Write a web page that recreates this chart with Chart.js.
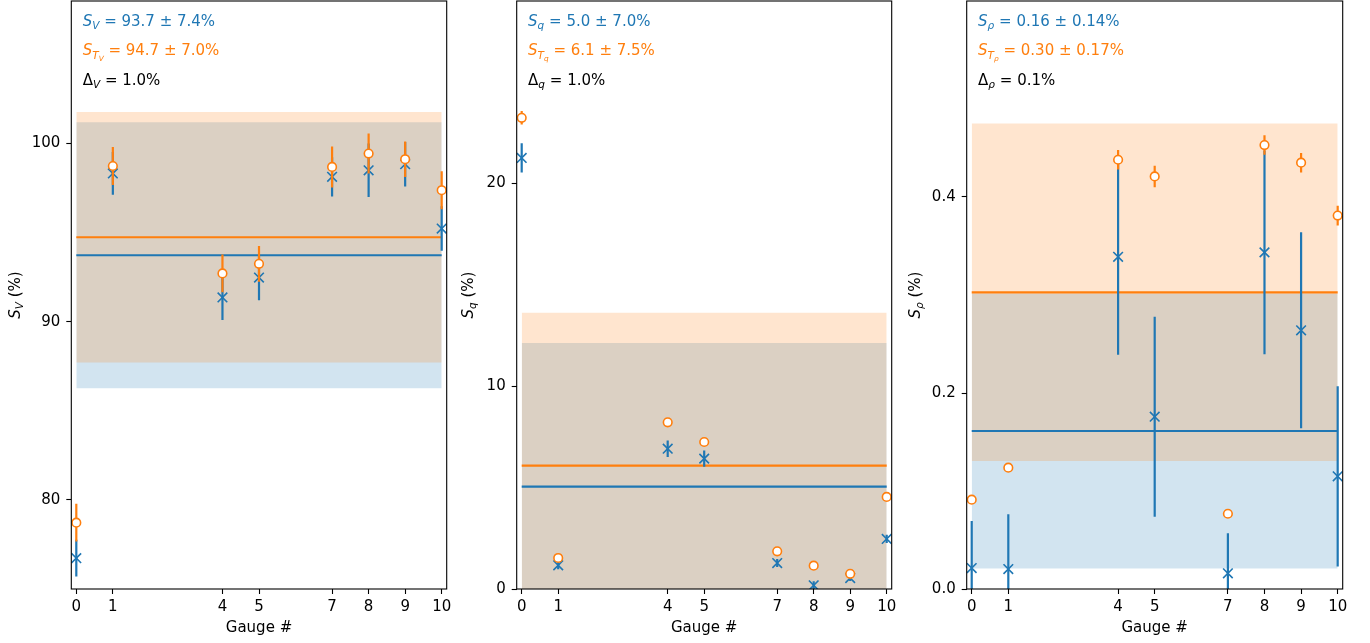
<!DOCTYPE html>
<html><head><meta charset="utf-8">
<script src="https://cdn.jsdelivr.net/npm/chart.js@4.4.0/dist/chart.umd.min.js"></script>
<style>
html,body{margin:0;padding:0;background:#fff;width:1370px;height:643px;overflow:hidden;}
canvas{position:absolute;top:0;}
</style></head><body>
<canvas id="c1" width="452" height="643" style="left:0px"></canvas>
<canvas id="c2" width="445" height="643" style="left:452px"></canvas>
<canvas id="c3" width="473" height="643" style="left:897px"></canvas>
<script>
// ---------------- data ----------------
const gauges = [0, 1, 4, 5, 7, 8, 9, 10];
const xTickValues = [0, 1, 4, 5, 7, 8, 9, 10];
const xTitle = 'Gauge #';

// Panel V
const sV      = [76.73, 98.32, 91.36, 92.48, 98.13, 98.50, 98.84, 95.23];
const sVErr   = [1.03, 1.20, 1.27, 1.27, 1.10, 1.50, 1.25, 1.25];
const sTV     = [78.72, 98.74, 92.71, 93.25, 98.69, 99.44, 99.12, 97.38];
const sTVErr  = [1.06, 1.07, 1.06, 1.00, 1.15, 1.12, 1.00, 1.07];
const statV   = [93.73, 7.47];   // mean, std of S_V
const statTV  = [94.74, 7.03];   // mean, std of S_TV
const yTicksV = [80, 90, 100];
const yTickLabelsV = ['80', '90', '100'];
const yRangeV = [75.0, 108.0];

// Panel q
const sQ      = [21.26, 1.17, 6.92, 6.43, 1.28, 0.18, 0.54, 2.47];
const sQErr   = [0.72, 0.20, 0.41, 0.40, 0.20, 0.20, 0.15, 0.20];
const sTQ     = [23.24, 1.53, 8.22, 7.25, 1.86, 1.15, 0.75, 4.54];
const sTQErr  = [0.33, 0.10, 0.10, 0.10, 0.10, 0.10, 0.10, 0.10];
const statQ   = [5.05, 7.08];
const statTQ  = [6.08, 7.54];
const yTicksQ = [0, 10, 20];
const yTickLabelsQ = ['0', '10', '20'];
const yRangeQ = [0, 29.0];

// Panel rho
const sR      = [0.0214, 0.0204, 0.339, 0.1758, 0.016, 0.3435, 0.264, 0.115];
const sRErr   = [0.048, 0.056, 0.100, 0.102, 0.041, 0.104, 0.100, 0.092];
const sTR     = [0.0911, 0.1238, 0.438, 0.421, 0.0768, 0.453, 0.435, 0.381];
const sTRErr  = [0.004, 0.004, 0.010, 0.011, 0.004, 0.010, 0.010, 0.010];
const statR   = [0.1612, 0.1403];
const statTR  = [0.3027, 0.1722];
const yTicksR = [0.0, 0.2, 0.4];
const yTickLabelsR = ['0.0', '0.2', '0.4'];
const yRangeR = [0, 0.6];

// annotation text (mathtext-like parts: [text, italic, level])
const textV = [
  [['S',1,0],['V',1,1],[' = 93.7 \u00b1 7.4%',0,0]],
  [['S',1,0],['T',1,1],['V',1,2],[' = 94.7 \u00b1 7.0%',0,0]],
  [['\u0394',0,0],['V',1,1],[' = 1.0%',0,0]]
];
const textQ = [
  [['S',1,0],['q',1,1],[' = 5.0 \u00b1 7.0%',0,0]],
  [['S',1,0],['T',1,1],['q',1,2],[' = 6.1 \u00b1 7.5%',0,0]],
  [['\u0394',0,0],['q',1,1],[' = 1.0%',0,0]]
];
const textR = [
  [['S',1,0],['\u03c1',1,1],[' = 0.16 \u00b1 0.14%',0,0]],
  [['S',1,0],['T',1,1],['\u03c1',1,2],[' = 0.30 \u00b1 0.17%',0,0]],
  [['\u0394',0,0],['\u03c1',1,1],[' = 0.1%',0,0]]
];
const yLabelV = [['S',1,0],['V',1,1],[' (%)',0,0]];
const yLabelQ = [['S',1,0],['q',1,1],[' (%)',0,0]];
const yLabelR = [['S',1,0],['\u03c1',1,1],[' (%)',0,0]];

// ---------------- styling ----------------
const BLUE = '#1f77b4', ORANGE = '#ff7f0e';
const BLUE_A = 'rgba(31,119,180,0.2)', ORANGE_A = 'rgba(255,127,14,0.2)';
const FONT = 'DejaVu Sans';
const FS = 15;
const textColors = [BLUE, ORANGE, '#000'];

function setFont(ctx, it, s) {
  ctx.font = (it ? 'italic ' : '') + s + 'px "' + FONT + '"';
}
function mathWidth(ctx, parts, size) {
  let w = 0;
  ctx.wordSpacing = '-1px';
  for (const [t, it, lv] of parts) {
    setFont(ctx, it, size * Math.pow(0.7, lv));
    w += ctx.measureText(t).width;
  }
  return w;
}
function drawMath(ctx, x, y, parts, size, color) {
  let cx = x;
  ctx.fillStyle = color;
  ctx.textBaseline = 'alphabetic';
  ctx.textAlign = 'left';
  ctx.wordSpacing = '-1px';
  for (const [t, it, lv] of parts) {
    let dy = 0;
    if (lv >= 1) dy += size * 0.22;
    if (lv >= 2) dy += size * 0.7 * 0.22;
    setFont(ctx, it, size * Math.pow(0.7, lv));
    ctx.fillText(t, cx, y + dy);
    cx += ctx.measureText(t).width;
  }
}

function errDatasets(vals, errs, color, order) {
  return gauges.map((g, i) => ({
    type: 'line',
    data: [{x: g, y: vals[i] - errs[i]}, {x: g, y: vals[i] + errs[i]}],
    borderColor: color, borderWidth: 2.2, pointRadius: 0, fill: false,
    order: order, clip: 0
  }));
}
function hLine(val) {
  const x0 = Math.min(...gauges), x1 = Math.max(...gauges);
  return [{x: x0, y: val}, {x: x1, y: val}];
}
function noPad(s) { s.paddingTop = 0; s.paddingBottom = 0; s.paddingLeft = 0; s.paddingRight = 0; }

function makePanel(id, p) {
  const ds = [];
  // bands
  ds.push({type:'line', data: hLine(p.statB[0] + p.statB[1]), fill: '+1', backgroundColor: BLUE_A, borderWidth: 0, pointRadius: 0, order: 30, clip: 0});
  ds.push({type:'line', data: hLine(p.statB[0] - p.statB[1]), fill: false, borderWidth: 0, pointRadius: 0, order: 30, clip: 0});
  ds.push({type:'line', data: hLine(p.statO[0] + p.statO[1]), fill: '+1', backgroundColor: ORANGE_A, borderWidth: 0, pointRadius: 0, order: 29, clip: 0});
  ds.push({type:'line', data: hLine(p.statO[0] - p.statO[1]), fill: false, borderWidth: 0, pointRadius: 0, order: 29, clip: 0});
  // mean lines
  ds.push({type:'line', data: hLine(p.statB[0]), borderColor: BLUE, borderWidth: 2.2, pointRadius: 0, fill: false, order: 25, clip: 0});
  ds.push({type:'line', data: hLine(p.statO[0]), borderColor: ORANGE, borderWidth: 2.2, pointRadius: 0, fill: false, order: 24, clip: 0});
  // blue errors + markers
  ds.push(...errDatasets(p.b, p.be, BLUE, 20));
  ds.push({type:'line', data: gauges.map((g,i)=>({x:g, y:p.b[i]})), showLine: false,
    pointStyle: 'crossRot', pointRadius: 6.8, borderColor: BLUE, backgroundColor: BLUE, pointBorderWidth: 1.6, order: 19, clip: 0});
  // orange errors + markers
  ds.push(...errDatasets(p.o, p.oe, ORANGE, 18));
  ds.push({type:'line', data: gauges.map((g,i)=>({x:g, y:p.o[i]})), showLine: false,
    pointStyle: 'circle', pointRadius: 4.3, borderColor: ORANGE, backgroundColor: '#fff', pointBorderWidth: 1.6, order: 17, clip: 0});

  const deco = {
    id: 'deco',
    afterDraw(chart) {
      const ctx = chart.ctx, a = chart.chartArea;
      ctx.save();
      ctx.strokeStyle = '#000';
      ctx.lineWidth = 1.1;
      ctx.strokeRect(a.left, a.top, a.right - a.left, a.bottom - a.top);
      const offs = [25, 54.4, 83.8];
      p.text.forEach((parts, k) => drawMath(ctx, a.left + 11.4, a.top + offs[k], parts, FS, textColors[k]));
      const w = mathWidth(ctx, p.ylab, FS);
      ctx.translate(a.left - p.ylabOff, (a.top + a.bottom) / 2);
      ctx.rotate(-Math.PI / 2);
      drawMath(ctx, -w / 2, 4.5, p.ylab, FS, '#000');
      ctx.restore();
    }
  };

  new Chart(document.getElementById(id), {
    type: 'line',
    data: {datasets: ds},
    options: {
      responsive: false, animation: false, devicePixelRatio: 1,
      layout: {autoPadding: false, padding: {left: 0, right: p.padR, top: 1, bottom: 0}},
      plugins: {legend: {display: false}, tooltip: {enabled: false}},
      scales: {
        x: {
          type: 'linear', min: -0.137, max: 10.137,
          afterBuildTicks: s => { s.ticks = xTickValues.map(v => ({value: v})); },
          afterFit: s => { s.height = 54; noPad(s); },
          ticks: {autoSkip: false, maxRotation: 0, color: '#000', padding: 4,
                  font: {family: FONT, size: FS}, callback: v => String(v)},
          grid: {drawOnChartArea: false, drawTicks: true, tickLength: 5, tickColor: '#000', tickWidth: 1.1, color: '#000'},
          border: {display: false},
          title: {display: true, text: xTitle, color: '#000', font: {family: FONT, size: FS}, padding: {top: 0, bottom: 5.6}}
        },
        y: {
          type: 'linear', min: p.yr[0], max: p.yr[1],
          afterBuildTicks: s => { s.ticks = p.yt.map(v => ({value: v})); },
          afterFit: s => { s.width = p.yw; noPad(s); },
          ticks: {autoSkip: false, color: '#000', padding: 6,
                  font: {family: FONT, size: FS}, callback: (v, i) => p.ytl[i]},
          grid: {drawOnChartArea: false, drawTicks: true, tickLength: 5, tickColor: '#000', tickWidth: 1.1, color: '#000'},
          border: {display: false}
        }
      }
    },
    plugins: [deco]
  });
}

makePanel('c1', {b: sV, be: sVErr, o: sTV, oe: sTVErr, statB: statV, statO: statTV,
  yt: yTicksV, ytl: yTickLabelsV, yr: yRangeV, text: textV, ylab: yLabelV, yw: 71.3, padR: 5.3, ylabOff: 56.3});
makePanel('c2', {b: sQ, be: sQErr, o: sTQ, oe: sTQErr, statB: statQ, statO: statTQ,
  yt: yTicksQ, ytl: yTickLabelsQ, yr: yRangeQ, text: textQ, ylab: yLabelQ, yw: 64.7, padR: 5.3, ylabOff: 48.3});
makePanel('c3', {b: sR, be: sRErr, o: sTR, oe: sTRErr, statB: statR, statO: statTR,
  yt: yTicksR, ytl: yTickLabelsR, yr: yRangeR, text: textR, ylab: yLabelR, yw: 69.7, padR: 27.3, ylabOff: 51.7});
</script>
</body></html>
